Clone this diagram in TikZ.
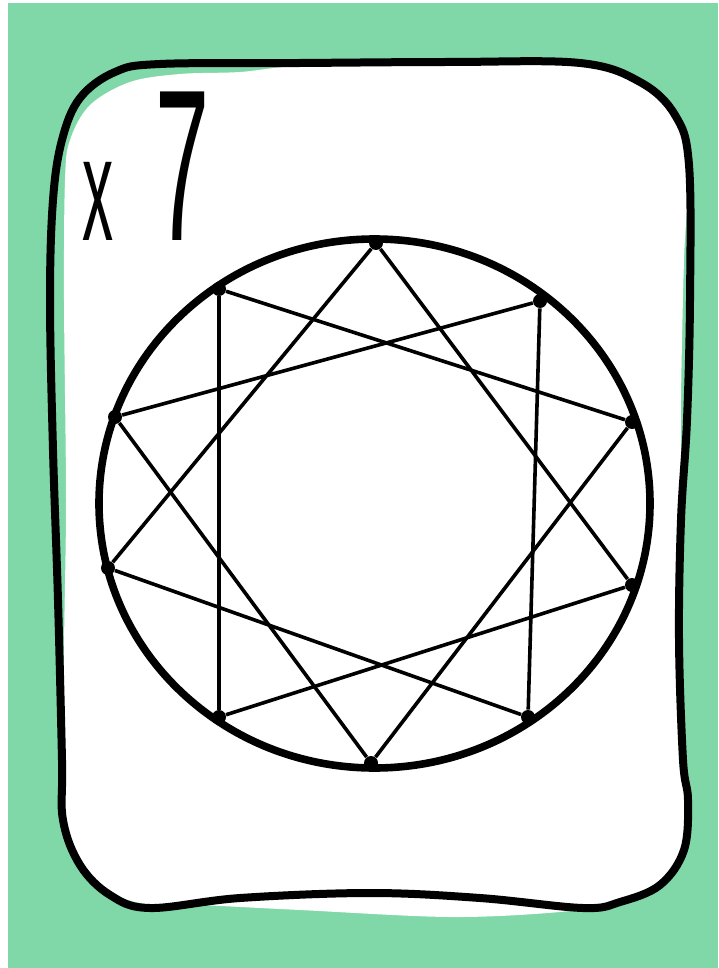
\documentclass[tikz,border=0pt]{standalone}
\usepackage{fontspec}
\setsansfont{Liberation Sans}
\usepackage{tikz}
\usepackage{xcolor}
\definecolor{cardgreen}{RGB}{128,216,168}

\begin{document}
\begin{tikzpicture}[x=0.5pt, y=-0.5pt,
    outline/.style={line width=4pt, line join=round},
    ring/.style={line width=3.8pt},
    starline/.style={line width=1.8pt},
    dot/.style={circle, fill=black, inner sep=0pt, minimum size=7pt}]
    \useasboundingbox (0,0) rectangle (718,968);
    \fill[white] (0,0) rectangle (718,968);
    \fill[cardgreen] (8,3) rectangle (718,968);

    % card paper
    \fill[white] plot[smooth cycle, tension=0.55] coordinates {
        (240,72) (300,66) (450,62) (580,63) (640,82) (675,115) (688,170)
        (684,260) (681,400) (681,520) (679,640) (683,760) (688,800)
        (684,850) (660,885) (620,902) (560,912) (450,917) (300,910)
        (200,905) (140,903) (100,885) (72,845) (64,800) (64,650)
        (66,500) (64,300) (65,180) (70,140) (90,105) (130,82) (180,74)};

    % card outline
    \draw[outline] plot[smooth cycle, tension=0.6] coordinates {
        (160,64) (300,63) (450,62) (580,63) (640,82) (675,115) (689,165)
        (690,300) (687,420) (681,520) (679,640) (683,760) (688,800)
        (684,850) (660,885) (620,902) (583,908) (480,898) (370,893)
        (240,898) (150,908) (110,895) (80,865) (63,820) (62,760)
        (58,600) (53,450) (50,300) (53,200) (62,140) (80,98) (115,72)};

    % count
    \node[inner sep=0pt, xscale=0.42, font=\sffamily\fontsize{74}{74}\selectfont] (times) at (98,201) {x};
    \node[inner sep=0pt, xscale=0.45, font=\sffamily\fontsize{108}{108}\selectfont] (count) at (183,166) {7};

    % circle
    \draw[ring] (374.5,503.5) ellipse [x radius=275.5, y radius=264.5];

    % points on the circle
    \node[dot] (p0) at (376,243) {};
    \node[dot] (p1) at (540,301) {};
    \node[dot] (p2) at (632,422) {};
    \node[dot] (p3) at (632,585) {};
    \node[dot] (p4) at (528,717) {};
    \node[dot] (p5) at (371,763) {};
    \node[dot] (p6) at (219,717) {};
    \node[dot] (p7) at (108,568) {};
    \node[dot] (p8) at (115,417) {};
    \node[dot] (p9) at (219,289) {};

    % star {10/3}
    \foreach \i in {0,...,9} {
        \pgfmathtruncatemacro{\j}{mod(\i+3,10)}
        \draw[starline] (p\i) -- (p\j);
    }
\end{tikzpicture}
\end{document}
